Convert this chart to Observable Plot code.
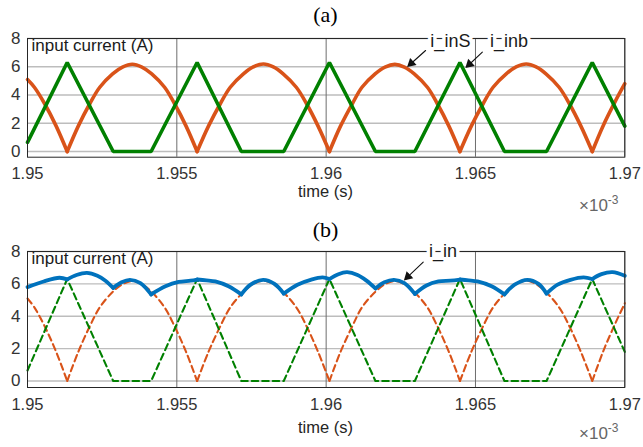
<!DOCTYPE html>
<html>
<head>
<meta charset="utf-8">
<script src="https://cdn.jsdelivr.net/npm/d3@7"></script>
<script src="https://cdn.jsdelivr.net/npm/@observablehq/plot@0.6"></script>
<style>
  html, body { margin: 0; padding: 0; background: #fff; }
  #wrap { position: relative; width: 643px; height: 447px; font-family: "Liberation Sans", Arial, sans-serif; overflow: hidden; }
  .panel { position: absolute; left: 0; }
  .panel svg { display: block; }
  .cap { position: absolute; left: 0; width: 651px; text-align: center; font-family: "Liberation Serif", "Times New Roman", serif; font-size: 22px; line-height: 22px; color: #000; }
  .xl { position: absolute; left: 0; width: 651px; text-align: center; font-size: 16.5px; line-height: 16.5px; color: #262626; }
  .ex { position: absolute; left: 579px; font-size: 17px; line-height: 17px; color: #666; white-space: nowrap; }
  .ex .sup { position: relative; top: -7px; font-size: 12px; }
</style>
</head>
<body>
<div id="wrap">
  <div class="cap" style="top:4px">(a)</div>
  <div class="cap" style="top:219px">(b)</div>
</div>
<script>
// ---- axes ----
const xTicks = [1.95, 1.955, 1.96, 1.965, 1.97];
const xTickLabels = ["1.95", "1.955", "1.96", "1.965", "1.97"];
const yTicks = [0, 2, 4, 6, 8];
const xAxisTitle = "time (s)";
const yAxisTitle = "input current (A)";
const xExponent = "×10";
const xExponentPower = "-3";

// ---- i_inS (orange, rectified humps) ----
const tInS = [
  1.95000, 1.95023, 1.95057, 1.95096, 1.95133,
  1.95170, 1.95209, 1.95242, 1.95285, 1.95318, 1.95351, 1.95383, 1.95416, 1.95459, 1.95492, 1.95531, 1.95568,
  1.95606, 1.95646, 1.95679, 1.95723, 1.95756, 1.95790, 1.95823, 1.95856, 1.95900, 1.95934, 1.95973, 1.96011,
  1.96048, 1.96088, 1.96120, 1.96164, 1.96197, 1.96230, 1.96262, 1.96295, 1.96339, 1.96372, 1.96411, 1.96448,
  1.96486, 1.96526, 1.96559, 1.96603, 1.96636, 1.96670, 1.96703, 1.96736, 1.96780, 1.96814, 1.96853, 1.96891,
  1.96928, 1.96968, 1.97000
];
const iInS = [
  5.10, 4.55, 3.40, 1.80, 0,
  1.80, 3.40, 4.55, 5.50, 5.98, 6.18, 5.98, 5.50, 4.55, 3.40, 1.80, 0,
  1.80, 3.40, 4.55, 5.50, 5.99, 6.20, 5.99, 5.50, 4.55, 3.40, 1.80, 0,
  1.80, 3.40, 4.55, 5.50, 5.98, 6.17, 5.98, 5.50, 4.55, 3.40, 1.80, 0,
  1.80, 3.40, 4.55, 5.50, 5.99, 6.20, 5.99, 5.50, 4.55, 3.40, 1.80, 0,
  1.85, 3.55, 4.80
];

// ---- i_inb (green, trapezoid) ----
const tInb = [1.95000, 1.95133, 1.95287, 1.95414, 1.95568, 1.95716, 1.95858, 1.96011, 1.96165, 1.96297, 1.96448, 1.96597, 1.96738, 1.96891, 1.97000];
const iInb = [0.65, 6.30, 0, 0, 6.30, 0, 0, 6.30, 0, 0, 6.30, 0, 0, 6.30, 1.80];

// ---- i_in (blue, total) ----
const tIn = [
  1.95000, 1.95054, 1.95107, 1.95133, 1.95164, 1.95199, 1.95234, 1.95261, 1.95287,
  1.95315, 1.95343, 1.95378, 1.95414, 1.95462, 1.95506, 1.95546, 1.95568,
  1.95599, 1.95629, 1.95673, 1.95716, 1.95747, 1.95789, 1.95827, 1.95858,
  1.95904, 1.95948, 1.95988, 1.96011, 1.96041, 1.96070, 1.96105, 1.96135, 1.96165,
  1.96195, 1.96227, 1.96262, 1.96297, 1.96336, 1.96376, 1.96416, 1.96448,
  1.96477, 1.96507, 1.96554, 1.96597, 1.96631, 1.96674, 1.96711, 1.96738,
  1.96775, 1.96818, 1.96862, 1.96891, 1.96922, 1.96959, 1.97000
];
const iIn = [
  5.80, 6.15, 6.38, 6.28, 6.55, 6.68, 6.50, 6.20, 5.75,
  6.10, 6.25, 6.05, 5.35, 5.85, 6.12, 6.20, 6.27,
  6.22, 6.15, 5.85, 5.35, 5.95, 6.25, 6.00, 5.40,
  5.95, 6.25, 6.40, 6.30, 6.60, 6.72, 6.55, 6.20, 5.72,
  6.10, 6.25, 6.05, 5.38, 5.90, 6.15, 6.20, 6.27,
  6.22, 6.15, 5.85, 5.35, 5.95, 6.25, 6.00, 5.40,
  5.95, 6.25, 6.40, 6.30, 6.60, 6.72, 6.50
];
const iInCusps = [1.95133, 1.95287, 1.95414, 1.95568, 1.95716, 1.95858, 1.96011, 1.96165, 1.96297, 1.96448, 1.96597, 1.96738, 1.96891];

// ---- annotations ----
const annoA = ["i_inS", "i_inb"];
const annoAx = [1.96416, 1.96612];
const annoAy = [7.82, 7.82];
const arrowAx1 = [1.96333, 1.96523], arrowAy1 = [7.15, 7.03];
const arrowAx2 = [1.96277, 1.96472], arrowAy2 = [6.09, 6.02];
const annoB = ["i_in"];
const annoBx = [1.96391];
const annoBy = [8.02];
const arrowBx1 = [1.96325], arrowBy1 = [7.34];
const arrowBx2 = [1.96266], arrowBy2 = [6.31];

const colS = "#D95319", colB = "#008000", colIn = "#0072BD";

// split a series into segments at cusp times (cusp point shared by both segments)
function segmentize(ts, vs, cusps) {
  const out = [];
  let seg = 0;
  ts.forEach((t, i) => {
    const isCusp = cusps.some(c => Math.abs(c - t) < 1e-9);
    out.push({t, v: vs[i], seg});
    if (isCusp && i > 0 && i < ts.length - 1) { seg++; out.push({t, v: vs[i], seg}); }
  });
  return out;
}
const cuspS = tInS.filter((t, i) => iInS[i] === 0);
const dataS = segmentize(tInS, iInS, cuspS);
const dataB = tInb.map((t, i) => ({t, v: iInb[i]}));
const dataIn = segmentize(tIn, iIn, iInCusps);

const W = 643, ML = 27, MR = 18.7, MT = 38;
const XDOM = [1.95, 1.97], YDOM = [-0.4, 8];

// arrow-head triangles: positioned a little behind each tip, rotated along the arrow (screen space)
function heads(x1s, y1s, x2s, y2s, h, mb) {
  const kx = (W - ML - MR) / (XDOM[1] - XDOM[0]);
  const ky = (h - MT - mb) / (YDOM[1] - YDOM[0]);
  return x2s.map((x2, i) => {
    const dx = (x2 - x1s[i]) * kx, dy = -(y2s[i] - y1s[i]) * ky;
    const len = Math.hypot(dx, dy);
    const back = 3.2;
    return {
      x: x2 - (dx / len) * back / kx,
      y: y2s[i] + (dy / len) * back / ky,
      rot: Math.atan2(dx, -dy) * 180 / Math.PI
    };
  });
}

function basePlot(h, mb, lineMarks, anno) {
  return Plot.plot({
    width: W, height: h,
    marginLeft: ML, marginRight: MR, marginTop: MT, marginBottom: mb,
    style: {fontFamily: "'Liberation Sans', Arial, sans-serif", background: "white", color: "#262626"},
    x: {domain: XDOM},
    y: {domain: YDOM},
    marks: [
      Plot.gridY(yTicks, {stroke: "#bdbdbd", strokeOpacity: 1, strokeWidth: 1.4}),
      Plot.gridX(xTicks, {stroke: "#6e6e6e", strokeOpacity: 1, strokeWidth: 1}),
      ...lineMarks,
      Plot.frame({stroke: "#262626", strokeWidth: 1}),
      Plot.axisX(xTicks, {tickFormat: (d, i) => xTickLabels[i], tickSize: 0, tickPadding: 10.5, fontSize: 16.5, label: null, fill: "#333"}),
      Plot.axisY(yTicks, {tickSize: 0, tickPadding: 7, fontSize: 17, label: null, fill: "#333"}),
      Plot.text([yAxisTitle], {frameAnchor: "top-left", text: d => d, dx: 4, dy: 0, lineAnchor: "top", textAnchor: "start", fontSize: 17, fill: "#1a1a1a"}),
      ...anno
    ]
  });
}

function annoMarks(labels, lx, ly, x1, y1, x2, y2, h, mb) {
  return [
    Plot.arrow(labels, {x1: (d, i) => x1[i], y1: (d, i) => y1[i], x2: (d, i) => x2[i], y2: (d, i) => y2[i], stroke: "#111", strokeWidth: 1.1, headLength: 8, headAngle: 45}),
    Plot.dot(heads(x1, y1, x2, y2, h, mb), {x: "x", y: "y", rotate: "rot", symbol: "triangle", r: 3.6, fill: "#111", stroke: "none"}),
    Plot.text(labels, {x: (d, i) => lx[i], y: (d, i) => ly[i], text: d => d, fontSize: 18, fill: "#1a1a1a", stroke: "white", strokeWidth: 7})
  ];
}

const plotA = basePlot(215, 58.3, [
  Plot.line(dataS, {x: "t", y: "v", z: "seg", stroke: colS, strokeWidth: 3.6, curve: "catmull-rom"}),
  Plot.line(dataB, {x: "t", y: "v", stroke: colB, strokeWidth: 3.6, strokeLinejoin: "miter"})
], annoMarks(annoA, annoAx, annoAy, arrowAx1, arrowAy1, arrowAx2, arrowAy2, 215, 58.3));

const plotB = basePlot(234, 60, [
  Plot.line(dataS, {x: "t", y: "v", z: "seg", stroke: colS, strokeWidth: 2.1, strokeDasharray: "6.5,4", curve: "catmull-rom"}),
  Plot.line(dataB, {x: "t", y: "v", stroke: colB, strokeWidth: 2.1, strokeDasharray: "6.5,4"}),
  Plot.line(dataIn, {x: "t", y: "v", z: "seg", stroke: colIn, strokeWidth: 3.8, curve: "catmull-rom"})
], annoMarks(annoB, annoBx, annoBy, arrowBx1, arrowBy1, arrowBx2, arrowBy2, 234, 60));

const wrap = document.getElementById("wrap");
function place(node, top) {
  const d = document.createElement("div");
  d.className = "panel";
  d.style.top = top + "px";
  d.appendChild(node);
  wrap.appendChild(d);
}
place(plotA, 0);
place(plotB, 213);

function addDiv(cls, top, html) {
  const d = document.createElement("div");
  d.className = cls;
  d.style.top = top + "px";
  d.innerHTML = html;
  wrap.appendChild(d);
}
addDiv("xl", 183, xAxisTitle);
addDiv("xl", 419, xAxisTitle);
addDiv("ex", 197, xExponent + '<span class="sup">' + xExponentPower + "</span>");
addDiv("ex", 425, xExponent + '<span class="sup">' + xExponentPower + "</span>");
wrap.querySelectorAll(".cap").forEach(c => wrap.appendChild(c));
</script>
</body>
</html>
